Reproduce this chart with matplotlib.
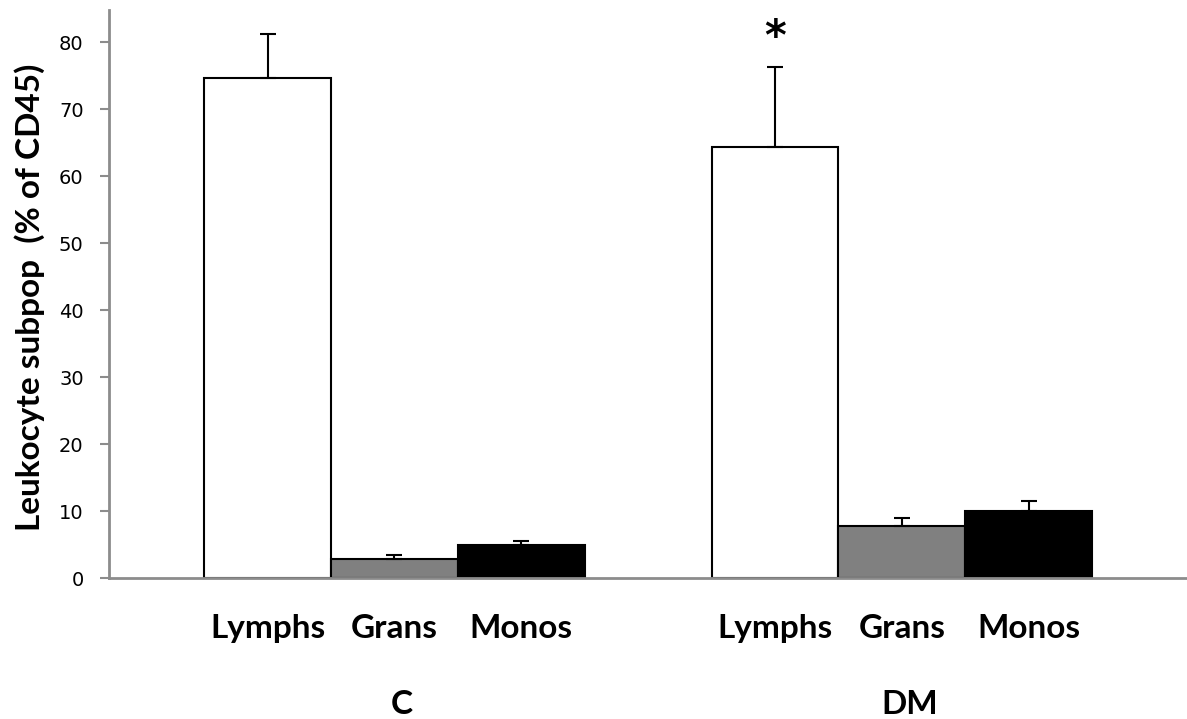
import numpy as np
import matplotlib.pyplot as plt
from matplotlib import transforms

# data
groups = ['C', 'DM']
cells = ['Lymphs', 'Grans', 'Monos']
c_means = [74.6, 2.9, 5.0]
c_err = [6.6, 0.6, 0.5]
dm_means = [64.4, 7.8, 10.0]
dm_err = [11.9, 1.2, 1.5]
yticks = [0, 10, 20, 30, 40, 50, 60, 70, 80]
star_pos = (1, 'Lymphs', 80.6)

fills = ['white', '#808080', 'black']
axcol = '#8c8c8c'
catfont = ['Lato', 'DejaVu Sans']

fig = plt.figure(figsize=(11.87, 7.19), dpi=100)
ax = fig.add_axes([0.0921, 0.1957, 0.9079, 0.7904])

w = 0.25
means = [c_means, dm_means]
errs = [c_err, dm_err]
for g in range(len(groups)):
    for i in range(len(cells)):
        x = g + (i - 1) * w
        ax.bar(x, means[g][i], w, color=fills[i], edgecolor='black', linewidth=1.5,
               yerr=[[0], [errs[g][i]]], zorder=2,
               error_kw=dict(ecolor='black', elinewidth=1.5, capsize=6, capthick=1.5))

ax.set_xlim(-0.5617, 1.5617)
ax.set_ylim(0, 84.8)
ax.set_yticks(yticks)
ax.tick_params(axis='y', direction='out', length=6.5, width=1.5, color=axcol,
               labelsize=14, pad=12)
ax.tick_params(axis='x', length=0, pad=26)
xt = [g + (i - 1) * w for g in range(len(groups)) for i in range(len(cells))]
ax.set_xticks(xt)
ax.set_xticklabels(cells * len(groups), fontsize=24, fontweight='bold', family=catfont)

for s in ['top', 'right']:
    ax.spines[s].set_visible(False)
for s in ['left', 'bottom']:
    ax.spines[s].set_color(axcol)
    ax.spines[s].set_linewidth(2)
    ax.spines[s].set_zorder(3)

trans = transforms.blended_transform_factory(ax.transData, fig.transFigure)
for g, name in enumerate(groups):
    ax.text(g + 0.015, 1 - 705 / 719, name, transform=trans, ha='center', va='center',
            fontsize=24, fontweight='bold', family=catfont)

g, cell, yv = star_pos
ax.text(g + (cells.index(cell) - 1) * w, yv, '*', ha='center', va='center',
        fontsize=30, fontweight='bold')

fig.text(30 / 1187, 1 - 297 / 719, 'Leukocyte subpop  (% of CD45)', rotation=90,
         ha='center', va='center', fontsize=24, fontweight='bold', family=catfont)

plt.savefig('out.png', dpi=100)
